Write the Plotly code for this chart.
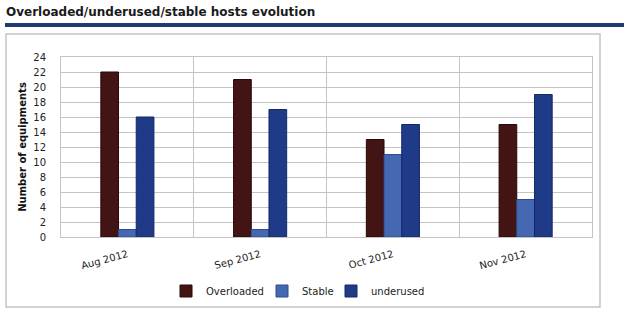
import plotly.graph_objects as go

months = ["Aug 2012", "Sep 2012", "Oct 2012", "Nov 2012"]
overloaded = [22, 21, 13, 15]
stable = [1, 1, 11, 5]
underused = [16, 17, 15, 19]
y_ticks = list(range(0, 25, 2))

fig = go.Figure()
fig.add_trace(go.Bar(name="Overloaded", x=months, y=overloaded, legend="legend",
                     marker=dict(color="#431414", line=dict(color="#2a0808", width=1))))
fig.add_trace(go.Bar(name="Stable", x=months, y=stable, legend="legend2",
                     marker=dict(color="#4668B0", line=dict(color="#2a4f9a", width=1))))
fig.add_trace(go.Bar(name="underused", x=months, y=underused, legend="legend3",
                     marker=dict(color="#1F3A87", line=dict(color="#12286a", width=1))))

L, R, T, B = 61, 592, 57, 237
W, H = 624, 322
def px(x): return (x - L) / (R - L)
def py(y): return (B - y) / (B - T)

def leg(x):
    return dict(orientation="h", x=px(x), xanchor="left", xref="paper",
                y=py(291), yanchor="middle", yref="paper", font=dict(size=10),
                bgcolor="rgba(0,0,0,0)")

fig.update_layout(
    width=W, height=H,
    margin=dict(l=L, r=W - R, t=T, b=H - B, pad=0, autoexpand=False),
    paper_bgcolor="white", plot_bgcolor="white",
    font=dict(family="DejaVu Sans", size=10, color="#222222"),
    barmode="group", bargap=0.6, bargroupgap=0,
    title=dict(text="<b>Overloaded/underused/stable hosts evolution</b>",
               x=6 / W, xanchor="left", xref="container",
               y=1 - 8 / H, yanchor="top",
               font=dict(family="DejaVu Sans", size=12, color="#1a1a1a")),
    legend=leg(166), legend2=leg(262), legend3=leg(331),
    showlegend=True,
    xaxis=dict(type="category", tickson="boundaries", showgrid=True, automargin=False,
               gridcolor="#c4c4c4", gridwidth=1, ticks="", tickangle=-15,
               showline=True, linecolor="#c4c4c4", mirror=True,
               tickfont=dict(size=10, color="#222222"), ticklabelstandoff=7),
    yaxis=dict(range=[0, 24], tickvals=y_ticks, showgrid=True, automargin=False,
               gridcolor="#c4c4c4", gridwidth=1, ticks="", zeroline=False,
               showline=True, linecolor="#c4c4c4", mirror=True,
               tickfont=dict(size=10, color="#222222"), ticklabelstandoff=12,
               title=dict(text="<b>Number of equipments</b>", standoff=4,
                          font=dict(size=10, color="#111111"))),
    shapes=[
        dict(type="rect", xref="paper", yref="paper",
             x0=px(6), x1=px(600), y0=py(307), y1=py(34),
             line=dict(color="#c4c4c4", width=1.5), fillcolor="rgba(0,0,0,0)", layer="below"),
        dict(type="rect", xref="paper", yref="paper",
             x0=px(5), x1=px(624), y0=py(27), y1=py(23),
             line=dict(width=0), fillcolor="#1E3C72"),
    ],
)

fig.write_html("out.html")
